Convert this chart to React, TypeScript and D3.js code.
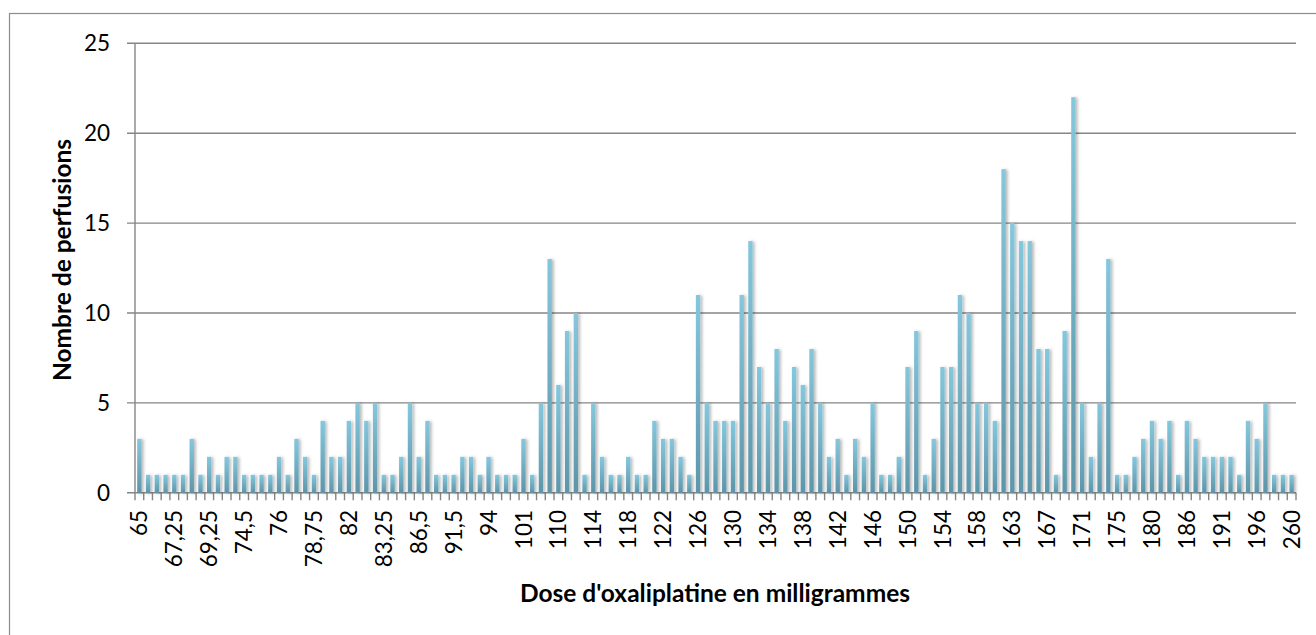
import React from "react";
import * as d3 from "d3";

// Number of infusions per dose category (133 categories, left to right)
const counts: number[] = [
  3, 1, 1, 1, 1, 1, 3, 1, 2, 1, 2, 2, 1, 1, 1, 1, 2, 1, 3, 2,
  1, 4, 2, 2, 4, 5, 4, 5, 1, 1, 2, 5, 2, 4, 1, 1, 1, 2, 2, 1,
  2, 1, 1, 1, 3, 1, 5, 13, 6, 9, 10, 1, 5, 2, 1, 1, 2, 1, 1, 4,
  3, 3, 2, 1, 11, 5, 4, 4, 4, 11, 14, 7, 5, 8, 4, 7, 6, 8, 5, 2,
  3, 1, 3, 2, 5, 1, 1, 2, 7, 9, 1, 3, 7, 7, 11, 10, 5, 5, 4, 18,
  15, 14, 14, 8, 8, 1, 9, 22, 5, 2, 5, 13, 1, 1, 2, 3, 4, 3, 4, 1,
  4, 3, 2, 2, 2, 2, 1, 4, 3, 5, 1, 1, 1,
];

// Visible category labels (every 4th category)
const tickLabels: string[] = [
  "65", "67,25", "69,25", "74,5", "76", "78,75", "82", "83,25", "86,5",
  "91,5", "94", "101", "110", "114", "118", "122", "126", "130", "134",
  "138", "142", "146", "150", "154", "158", "163", "167", "171", "175",
  "180", "186", "191", "196", "260",
];
const labelEvery = 4;

const yTicks: number[] = [0, 5, 10, 15, 20, 25];

const xTitle = "Dose d'oxaliplatine en milligrammes";
const yTitle = "Nombre de perfusions";

const W = 1316;
const H = 635;
const plot = { left: 135, right: 1296, top: 43.3, bottom: 492.8 };
const FONT = "Lato, 'Open Sans', sans-serif";
const GRID = "#868686";

export default function App() {
  const idx = d3.range(counts.length);
  const x = d3
    .scaleBand<number>()
    .domain(idx)
    .range([plot.left, plot.right])
    .paddingInner(0.5)
    .paddingOuter(0.25);
  const y = d3.scaleLinear().domain([0, 25]).range([plot.bottom, plot.top]);
  const step = x.step();
  const bw = x.bandwidth();
  const boundaries = d3.range(counts.length + 1).map((k) => plot.left + step * k);

  return (
    <div style={{ position: "absolute", left: 0, top: 0 }}>
      <svg width={W} height={H} style={{ display: "block", background: "#fff" }}>
        <defs>
          <linearGradient id="barGrad" x1="0" y1="0" x2="0" y2="1">
            <stop offset="0" stopColor="#84c8de" />
            <stop offset="1" stopColor="#5e95a8" />
          </linearGradient>
          <filter id="shadow" x="-50%" y="-10%" width="250%" height="120%">
            <feDropShadow dx="2" dy="0.5" stdDeviation="1.6" floodColor="#000" floodOpacity="0.28" />
          </filter>
        </defs>
        {/* outer frame */}
        <rect x={9.5} y={13.5} width={W + 20} height={H + 20} fill="none" stroke="#8c8c8c" strokeWidth={1.2} />

        {/* gridlines */}
        {yTicks.map((t) => (
          <line key={t} x1={plot.left - 8} x2={plot.right} y1={y(t)} y2={y(t)} stroke={GRID} strokeWidth={1.4} />
        ))}
        {/* y axis line */}
        <line x1={plot.left} x2={plot.left} y1={plot.top} y2={plot.bottom} stroke={GRID} strokeWidth={1.4} />
        {/* x tick marks */}
        {boundaries.map((bx, i) => (
          <line key={i} x1={bx} x2={bx} y1={plot.bottom} y2={plot.bottom + 7.5} stroke={GRID} strokeWidth={1.4} />
        ))}

        {/* bars */}
        <g filter="url(#shadow)">
          {counts.map((v, i) => (
            <rect key={i} x={x(i)} y={y(v)} width={bw} height={y(0) - y(v)} fill="url(#barGrad)" />
          ))}
        </g>

        {/* y tick labels */}
        {yTicks.map((t) => (
          <text key={t} x={110} y={y(t)} dy="0.36em" textAnchor="end" fontFamily={FONT} fontSize={22.5} fill="#000">
            {t}
          </text>
        ))}

        {/* x tick labels */}
        {tickLabels.map((lab, j) => {
          const i = j * labelEvery;
          const cx = (x(i) as number) + bw / 2;
          const ty = 510;
          return (
            <text
              key={lab + j}
              transform={`translate(${cx},${ty}) rotate(-90)`}
              dy="0.36em"
              textAnchor="end"
              fontFamily={FONT}
              fontSize={22.5}
              fill="#000"
            >
              {lab}
            </text>
          );
        })}

        {/* axis titles */}
        <text x={715} y={593} dy="0.36em" textAnchor="middle" fontFamily={FONT} fontWeight="bold" fontSize={24.5} fill="#000">
          {xTitle}
        </text>
        <text
          transform={`translate(62,260) rotate(-90)`}
          dy="0.36em"
          textAnchor="middle"
          fontFamily={FONT}
          fontWeight="bold"
          fontSize={24.5}
          fill="#000"
        >
          {yTitle}
        </text>
      </svg>
    </div>
  );
}
